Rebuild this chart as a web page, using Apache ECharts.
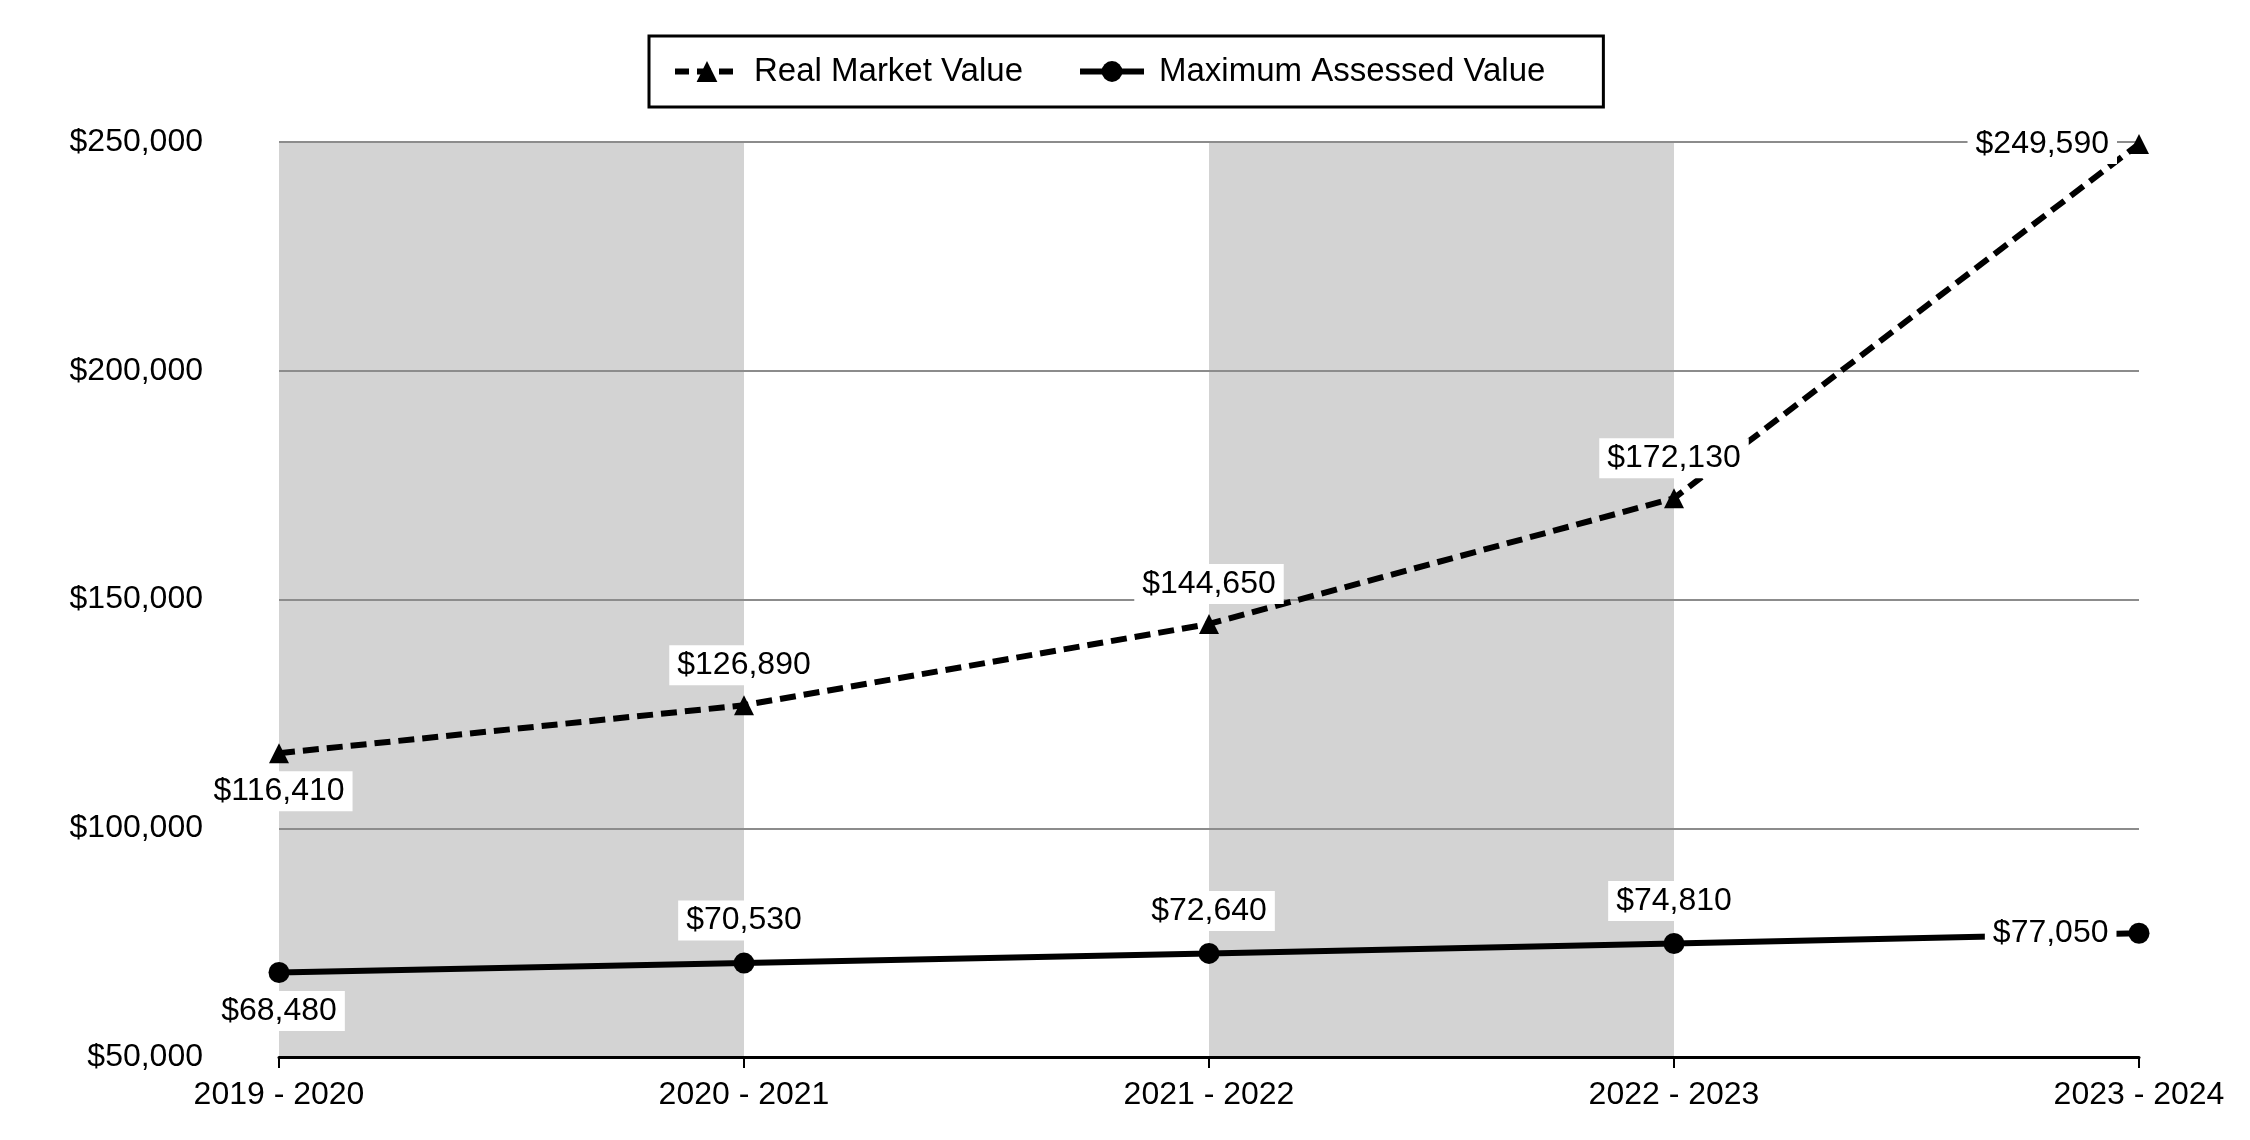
<!DOCTYPE html>
<html>
<head>
<meta charset="utf-8">
<style>
html,body{margin:0;padding:0;background:#fff;}
#chart{width:2250px;height:1140px;}
</style>
<script src="https://cdn.jsdelivr.net/npm/echarts@6/dist/echarts.min.js"></script>
</head>
<body>
<div id="chart"></div>
<script>
const categories = ['2019 - 2020', '2020 - 2021', '2021 - 2022', '2022 - 2023', '2023 - 2024'];
const realMarketValue = [116410, 126890, 144650, 172130, 249590];
const maxAssessedValue = [68480, 70530, 72640, 74810, 77050];
const seriesNames = ['Real Market Value', 'Maximum Assessed Value'];

const FONT = "'Liberation Sans', Arial, sans-serif";
const money = v => '$' + Number(v).toLocaleString('en-US');

function labelFor(pos, dist) {
  return {
    show: true,
    position: pos,
    distance: dist,
    formatter: p => money(p.value),
    color: '#000',
    fontSize: 32,
    fontFamily: FONT,
    backgroundColor: '#fff',
    padding: [4, 8, 4, 8]
  };
}

const rmvPos = [['bottom', 8], ['top', 10], ['top', 10], ['top', 10], ['left', 12]];
const mavPos = [['bottom', 8], ['top', 12], ['top', 12], ['top', 12], ['left', 12]];

const chart = echarts.init(document.getElementById('chart'), null, {renderer: 'canvas'});
chart.setOption({
  backgroundColor: '#fff',
  animation: false,
  textStyle: {fontFamily: FONT},
  legend: {
    left: 649,
    top: 36,
    orient: 'horizontal',
    borderColor: '#000',
    borderWidth: 3,
    padding: [19, 58, 19, 23],
    itemWidth: 64,
    itemHeight: 26,
    itemGap: 54,
    textStyle: {fontSize: 33, color: '#000', fontFamily: FONT, padding: [0, 0, 0, 10]},
    data: [
      {name: seriesNames[0], lineStyle: {width: 6, type: [14, 8], color: '#000'}},
      {name: seriesNames[1], lineStyle: {width: 6, type: 'solid', color: '#000'}}
    ]
  },
  grid: {left: 279, right: 111, top: 142, bottom: 83, containLabel: false},
  xAxis: [
    {
      type: 'category',
      data: categories,
      boundaryGap: false,
      z: 0,
      axisLine: {show: false},
      axisTick: {show: false},
      axisLabel: {show: false},
      splitLine: {show: false},
      splitArea: {show: true, areaStyle: {color: ['#d3d3d3', 'rgba(255,255,255,0)']}}
    },
    {
      type: 'category',
      data: categories,
      position: 'bottom',
      boundaryGap: false,
      z: 2,
      axisLine: {show: true, onZero: false, lineStyle: {color: '#000', width: 3}},
      axisTick: {show: true, length: 11, lineStyle: {color: '#000', width: 2}},
      axisLabel: {fontSize: 32, color: '#000', fontFamily: FONT, margin: 22},
      splitLine: {show: false},
      splitArea: {show: false}
    }
  ],
  yAxis: {
    type: 'value',
    min: 50000,
    max: 250000,
    interval: 50000,
    z: 1,
    axisLine: {show: false},
    axisTick: {show: false},
    axisLabel: {fontSize: 32, color: '#000', fontFamily: FONT, margin: 76, formatter: v => money(v)},
    splitLine: {show: true, lineStyle: {color: '#8c8c8c', width: 2}}
  },
  series: [
    {
      name: seriesNames[0],
      type: 'line',
      xAxisIndex: 0,
      data: realMarketValue.map((v, i) => ({value: v, label: labelFor(rmvPos[i][0], rmvPos[i][1])})),
      symbol: 'triangle',
      symbolSize: 20,
      itemStyle: {color: '#000'},
      lineStyle: {color: '#000', width: 6, type: [16, 8]},
      z: 3
    },
    {
      name: seriesNames[1],
      type: 'line',
      xAxisIndex: 0,
      data: maxAssessedValue.map((v, i) => ({value: v, label: labelFor(mavPos[i][0], mavPos[i][1])})),
      symbol: 'circle',
      symbolSize: 21,
      itemStyle: {color: '#000'},
      lineStyle: {color: '#000', width: 6, type: 'solid'},
      z: 3
    }
  ]
});
</script>
</body>
</html>
